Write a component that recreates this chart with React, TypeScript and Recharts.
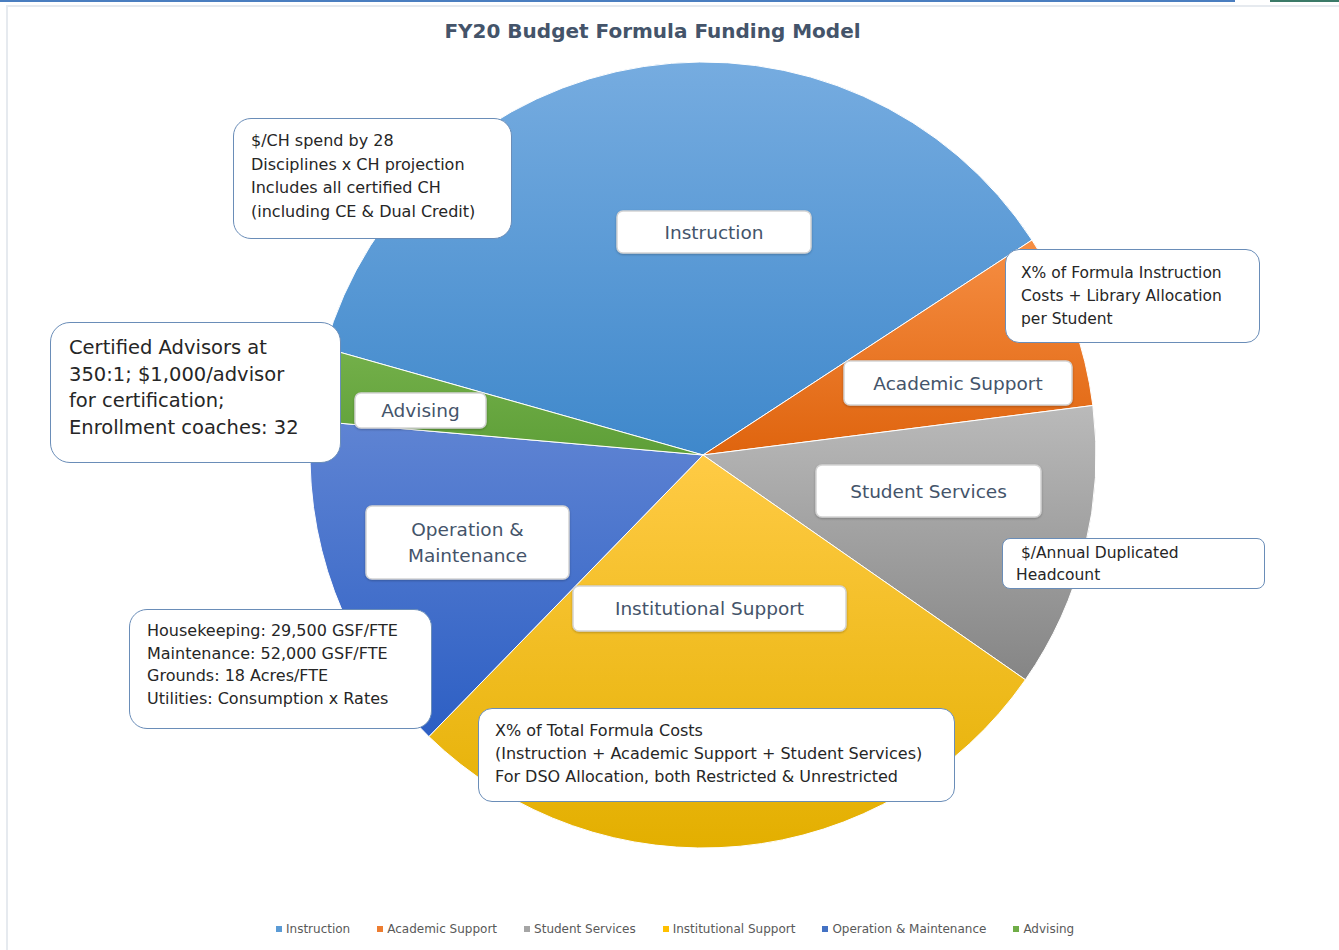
import { PieChart, Pie, Cell, Legend } from 'recharts'

const categories = [
  'Instruction',
  'Academic Support',
  'Student Services',
  'Institutional Support',
  'Operation & Maintenance',
  'Advising'
]
const shares = [36.4, 7.2, 11.7, 27.6, 14.1, 3.0]
const sliceLabels = [
  ['Instruction'],
  ['Academic Support'],
  ['Student Services'],
  ['Institutional Support'],
  ['Operation &', 'Maintenance'],
  ['Advising']
]
const notes = [
  ['$/CH spend by 28', 'Disciplines x CH projection', 'Includes all certified CH', '(including CE & Dual Credit)'],
  ['Certified Advisors at', '350:1; $1,000/advisor', 'for certification;', 'Enrollment coaches: 32'],
  ['X% of Formula Instruction', 'Costs + Library Allocation', 'per Student'],
  ['\u00a0$/Annual Duplicated', 'Headcount'],
  ['Housekeeping: 29,500 GSF/FTE', 'Maintenance: 52,000 GSF/FTE', 'Grounds: 18 Acres/FTE', 'Utilities: Consumption x Rates'],
  ['X% of Total Formula Costs', '(Instruction + Academic Support + Student Services)', 'For DSO Allocation, both Restricted & Unrestricted']
]

const data = categories.map((name, i) => ({ name, value: shares[i] }))

const legendColors = ['#5B9BD5', '#ED7D31', '#A5A5A5', '#FFC000', '#4472C4', '#70AD47']
const gradients = [
  ['#76ACE0', '#3F88CB'],
  ['#F68E43', '#DF640E'],
  ['#BABABA', '#858585'],
  ['#FFCB45', '#E3AF00'],
  ['#5F84D3', '#2D5FC4'],
  ['#74B04A', '#5E9F38']
]

// label boxes: offset from pie centre, width, height
const labelBoxes = [
  { dx: -86, dy: -244, w: 194, h: 42 },
  { dx: 141, dy: -94, w: 228, h: 44 },
  { dx: 113, dy: 10, w: 225, h: 52 },
  { dx: -130, dy: 131, w: 273, h: 45 },
  { dx: -337, dy: 51, w: 203, h: 73 },
  { dx: -348, dy: -62, w: 131, h: 35 }
]

// callout boxes on the page
const noteBoxes = [
  { left: 233, top: 118, width: 279, height: 121, fontSize: 16, lineHeight: 23.5, padL: 17, padT: 10, radius: 18 },
  { left: 50, top: 322, width: 291, height: 141, fontSize: 19.5, lineHeight: 26.5, padL: 18, padT: 12, radius: 20 },
  { left: 1005, top: 249, width: 255, height: 94, fontSize: 15.5, lineHeight: 23, padL: 15, padT: 12, radius: 14 },
  { left: 1002, top: 538, width: 263, height: 51, fontSize: 15.5, lineHeight: 22, padL: 13, padT: 3, radius: 8 },
  { left: 129, top: 609, width: 303, height: 120, fontSize: 16, lineHeight: 22.5, padL: 17, padT: 10, radius: 18 },
  { left: 478, top: 708, width: 477, height: 94, fontSize: 16, lineHeight: 23, padL: 16, padT: 10, radius: 14 }
]

const FONT = '"DejaVu Sans", "Open Sans", sans-serif'

function SliceLabel(props: any) {
  const { cx, cy, index } = props
  const b = labelBoxes[index]
  const lines = sliceLabels[index]
  const x = cx + b.dx
  const y = cy + b.dy
  const lh = 26
  const startY = y + b.h / 2 - ((lines.length - 1) * lh) / 2
  return (
    <g>
      <rect x={x} y={y} width={b.w} height={b.h} rx={6} ry={6} fill="#fff" stroke="#d4d4d4" strokeWidth={1.5} filter="url(#shadow)" />
      {lines.map((t, i) => (
        <text
          key={i}
          x={x + b.w / 2}
          y={startY + i * lh}
          textAnchor="middle"
          dominantBaseline="central"
          fill="#44546A"
          fontSize={18.5}
          fontFamily={FONT}
        >
          {t}
        </text>
      ))}
    </g>
  )
}

function LegendContent() {
  return (
    <div style={{ display: 'flex', paddingLeft: 276, fontFamily: FONT, fontSize: 12, color: '#595959' }}>
      {categories.map((c, i) => (
        <div key={c} style={{ display: 'flex', alignItems: 'center', marginRight: 27 }}>
          <span style={{ width: 6, height: 6, background: legendColors[i], marginRight: 4, display: 'inline-block' }} />
          {c}
        </div>
      ))}
    </div>
  )
}

export default function App() {
  return (
    <div style={{ position: 'absolute', left: 0, top: 0, width: 1339, height: 950, background: '#fff', overflow: 'hidden' }}>
      <div style={{ position: 'absolute', left: 0, top: 0, width: 1235, height: 2, background: '#4A7EC0' }} />
      <div style={{ position: 'absolute', left: 1270, top: 0, width: 69, height: 2, background: '#3B7A68' }} />
      <div style={{ position: 'absolute', left: 6, top: 5, width: 1340, height: 950, borderLeft: '2px solid #E6EAEF', borderTop: '2px solid #E6EAEF' }} />
      <div
        style={{
          position: 'absolute',
          left: 0,
          top: 19,
          width: 1305,
          textAlign: 'center',
          fontFamily: FONT,
          fontWeight: 'bold',
          fontSize: 20,
          color: '#44546A'
        }}
      >
        FY20 Budget Formula Funding Model
      </div>
      <div style={{ position: 'absolute', left: 0, top: 0 }}>
        <PieChart width={1339} height={950} margin={{ top: 0, right: 0, bottom: 0, left: 0 }}>
          <defs>
            {gradients.map((g, i) => (
              <linearGradient key={i} id={`g${i}`} x1="0" y1="0" x2="0" y2="1">
                <stop offset="0%" stopColor={g[0]} />
                <stop offset="100%" stopColor={g[1]} />
              </linearGradient>
            ))}
            <filter id="shadow" x="-10%" y="-20%" width="120%" height="140%">
              <feDropShadow dx="0" dy="1" stdDeviation="1" floodColor="#000" floodOpacity="0.25" />
            </filter>
          </defs>
          <Pie
            data={data}
            dataKey="value"
            nameKey="name"
            cx={703}
            cy={455}
            outerRadius={393}
            startAngle={164.2}
            endAngle={-195.8}
            stroke="#fff"
            strokeWidth={1}
            label={SliceLabel}
            labelLine={false}
            isAnimationActive={false}
          >
            {data.map((d, i) => (
              <Cell key={d.name} fill={`url(#g${i})`} />
            ))}
          </Pie>
          <Legend content={<LegendContent />} wrapperStyle={{ position: 'absolute', left: 0, top: 922, width: 1339 }} />
        </PieChart>
      </div>
      {noteBoxes.map((b, i) => (
        <div
          key={i}
          style={{
            position: 'absolute',
            left: b.left,
            top: b.top,
            width: b.width,
            height: b.height,
            boxSizing: 'border-box',
            background: '#fff',
            border: '1.5px solid #6A8DB8',
            borderRadius: b.radius,
            paddingLeft: b.padL,
            paddingTop: b.padT,
            fontFamily: FONT,
            fontSize: b.fontSize,
            lineHeight: `${b.lineHeight}px`,
            color: '#262626',
            whiteSpace: 'nowrap'
          }}
        >
          {notes[i].map((t, j) => (
            <div key={j}>{t}</div>
          ))}
        </div>
      ))}
    </div>
  )
}
